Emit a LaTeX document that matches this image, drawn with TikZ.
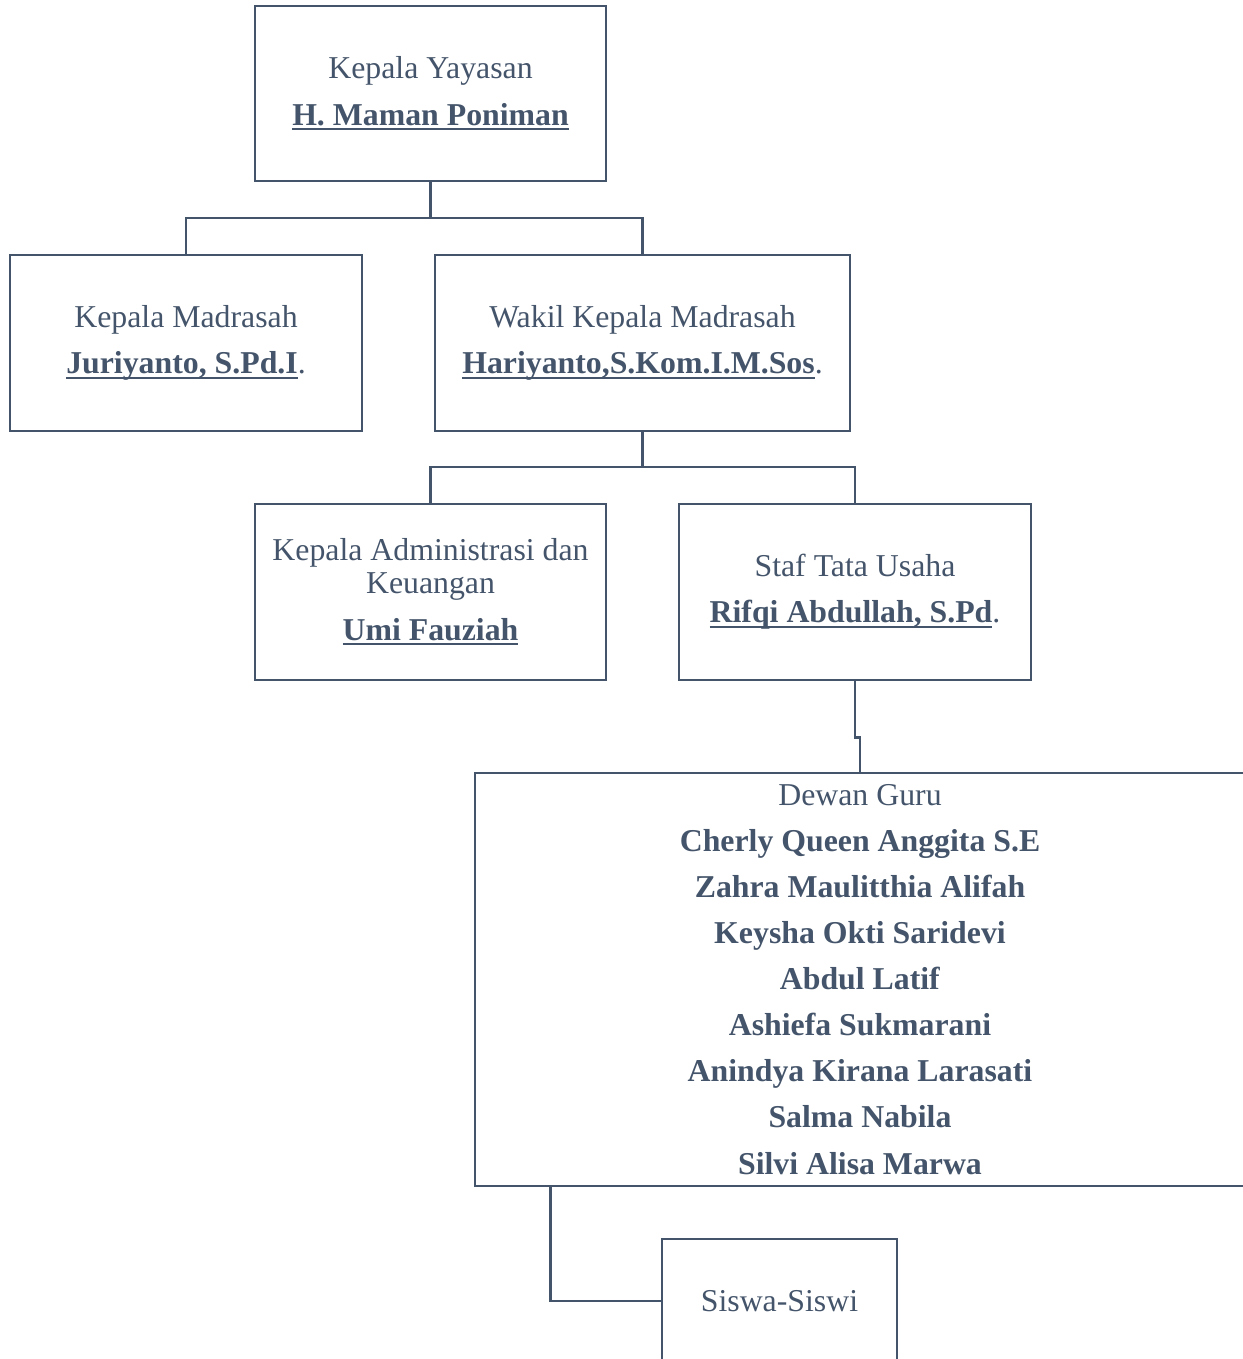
\documentclass[tikz,border=0pt]{standalone}
\usepackage{fontspec}
\setmainfont{Liberation Serif}
\usepackage{xcolor}
\usetikzlibrary{positioning}
\definecolor{slate}{HTML}{44546A}
\newsavebox{\namabox}
\newcommand{\nama}[1]{\sbox{\namabox}{\textbf{#1}}%
    \rlap{\rule[-2.9pt]{\wd\namabox}{1.2pt}}\usebox{\namabox}}

\begin{document}
\begin{tikzpicture}[x=0.02cm,y=-0.02cm,
    kotak/.style={draw=slate,line width=1.6pt,rectangle,inner sep=0pt,align=center,
        text=slate,font=\fontsize{18.1}{18.8}\selectfont},
    garis/.style={draw=slate,line width=1.6pt}]
            \useasboundingbox (0,0) rectangle (1243,1359);
            % Boxes
            \node[kotak,minimum width=7.02cm,minimum height=3.5cm] (yayasan) at (430.5,93.5)
                {Kepala Yayasan\\[7.4pt]\nama{H. Maman Poniman}};
            \node[kotak,minimum width=7.04cm,minimum height=3.52cm] (madrasah) at (186,343)
                {Kepala Madrasah\\[7.4pt]\nama{Juriyanto, S.Pd.I}.};
            \node[kotak,minimum width=8.3cm,minimum height=3.52cm] (wakil) at (642.5,343)
                {Wakil Kepala Madrasah\\[7.4pt]\nama{Hariyanto,S.Kom.I.M.Sos}.};
            \node[kotak,minimum width=7.02cm,minimum height=3.52cm] (admin) at (430.5,592)
                {Kepala Administrasi dan\\Keuangan\\[7.4pt]\nama{Umi Fauziah}};
            \node[kotak,minimum width=7.04cm,minimum height=3.52cm] (staf) at (855,592)
                {Staf Tata Usaha\\[7.4pt]\nama{Rifqi Abdullah, S.Pd}.};
            \node[kotak,minimum width=15.4cm,minimum height=8.26cm] (guru) at (860,979.5)
                {Dewan Guru\\[7.4pt]\textbf{Cherly Queen Anggita S.E}\\[7.4pt]
                 \textbf{Zahra Maulitthia Alifah}\\[7.4pt]\textbf{Keysha Okti Saridevi}\\[7.4pt]
                 \textbf{Abdul Latif}\\[7.4pt]\textbf{Ashiefa Sukmarani}\\[7.4pt]
                 \textbf{Anindya Kirana Larasati}\\[7.4pt]\textbf{Salma Nabila}\\[7.4pt]
                 \textbf{Silvi Alisa Marwa}};
            \node[kotak,minimum width=4.7cm,minimum height=2.48cm] (siswa) at (779.5,1301)
                {Siswa-Siswi};
            % Connectors
            \coordinate (cab1) at (430.5,218);
            \coordinate (cab2) at (642.5,467);
            \draw[garis] (yayasan.south) -- (cab1) -| (madrasah.north);
            \draw[garis] (cab1) -| (wakil.north);
            \draw[garis] (wakil.south) -- (cab2) -| (admin.north);
            \draw[garis] (cab2) -| (staf.north);
            \draw[garis] (staf.south) -- ++(0,56) -| (guru.north);
            \draw[garis] ([xshift=1.54cm]guru.south west) |- (siswa.west);
           \end{tikzpicture}
\end{document}
